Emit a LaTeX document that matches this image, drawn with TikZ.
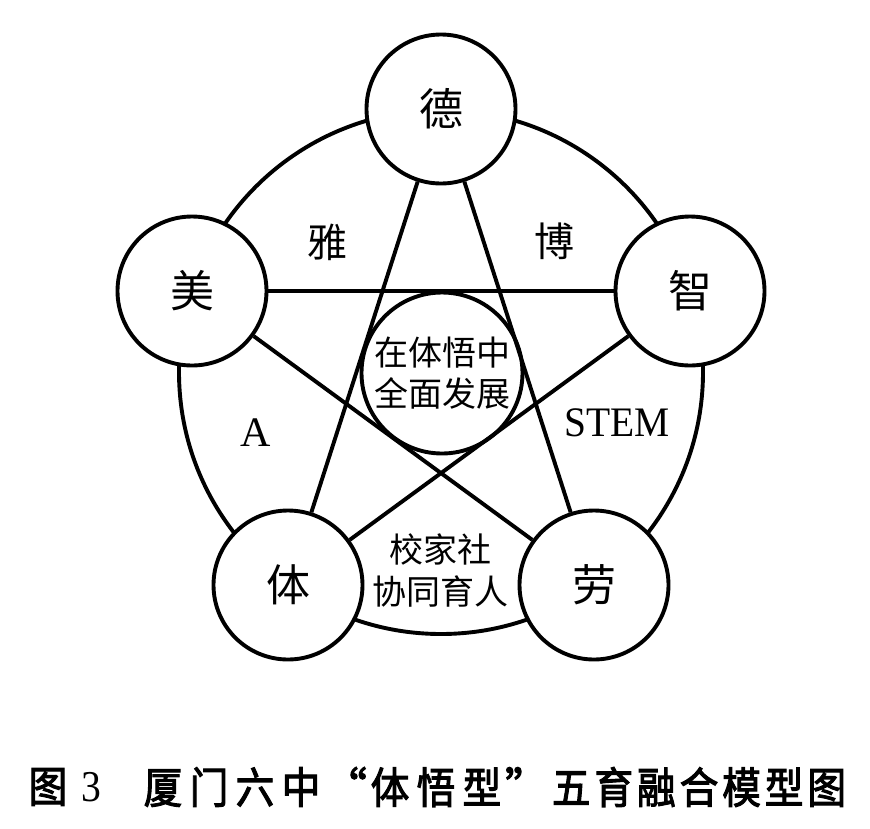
\documentclass[tikz,border=0pt]{standalone}
\usepackage{fontspec}
\usepackage{graphicx}
\setmainfont{Liberation Serif}
\newfontfamily\cjk{Noto Sans CJK SC}
\newfontfamily\capcjk{Noto Sans CJK SC}[FakeBold=2.5]
\newcommand\capbox[2]{\makebox[#1]{\scalebox{0.9}[1]{#2}}}
\begin{document}
\begin{tikzpicture}[x=1pt,y=-1pt,
  ring/.style={line width=3.9pt},
  elem/.style={circle,draw,line width=3.9pt,fill=white,minimum size=149pt,inner sep=0pt,
    font=\cjk\fontsize{44pt}{48pt}\selectfont},
  core/.style={circle,draw,line width=3.9pt,minimum size=161pt,inner sep=0pt,align=center,
    font=\cjk\fontsize{34pt}{41pt}\selectfont},
  link/.style={line width=3.9pt},
  lbl/.style={inner sep=0pt,font=\cjk\fontsize{40pt}{44pt}\selectfont},
  pair/.style={inner sep=0pt,align=center,font=\cjk\fontsize{34pt}{42pt}\selectfont},
  lat/.style={inner sep=0pt,font=\fontsize{42pt}{46pt}\selectfont},
  captxt/.style={inner sep=0pt,font=\capcjk\fontsize{43pt}{46pt}\selectfont},
  capnum/.style={inner sep=0pt,font=\fontsize{44pt}{48pt}\selectfont}]
\useasboundingbox (0,0) rectangle (870,828);
\fill[white] (0,0) rectangle (870,828);
% outer ring
\draw[ring] (441,372) circle[radius=262];
% five elements
\node[elem] (de) at (441,109) {德};
\node[elem] (mei) at (192,291) {美};
\node[elem] (zhi) at (690,291) {智};
\node[elem] (ti) at (288,585) {体};
\node[elem] (lao) at (594,585) {劳};
% star connectors
\draw[link] (de) -- (ti);
\draw[link] (de) -- (lao);
\draw[link] (mei) -- (zhi);
\draw[link] (mei) -- (lao);
\draw[link] (zhi) -- (ti);
% core
\node[core] (core) at (442,373) {在体悟中\\全面发展};
% region labels
\node[lbl] (ya) at (327,242) {雅};
\node[lbl] (bo) at (554,241) {博};
\node[lat] (a) at (256,433) {A};
\node[lat] (stem) at (617,423) {\scalebox{0.94}[1]{STEM}};
\node[pair] (xjs) at (440,570) {校家社\\协同育人};
% caption
\node[captxt] (c1) at (48,787) {\capbox{46pt}{图}};
\node[capnum] (c2) at (91,787) {\scalebox{0.9}[1]{3}};
\node[captxt] (c3) at (232,787) {\capbox{46pt}{厦}\capbox{46pt}{门}\capbox{46pt}{六}\capbox{46pt}{中}};
\node[captxt] (c4) at (436,787) {\makebox[46pt][r]{“}\capbox{46pt}{体}\capbox{46pt}{悟}\capbox{46pt}{型}\makebox[46pt][l]{”}};
\node[captxt] (c5) at (699,787) {\capbox{42.6pt}{五}\capbox{42.6pt}{育}\capbox{42.6pt}{融}\capbox{42.6pt}{合}\capbox{42.6pt}{模}\capbox{42.6pt}{型}\capbox{42.6pt}{图}};
\end{tikzpicture}
\end{document}
